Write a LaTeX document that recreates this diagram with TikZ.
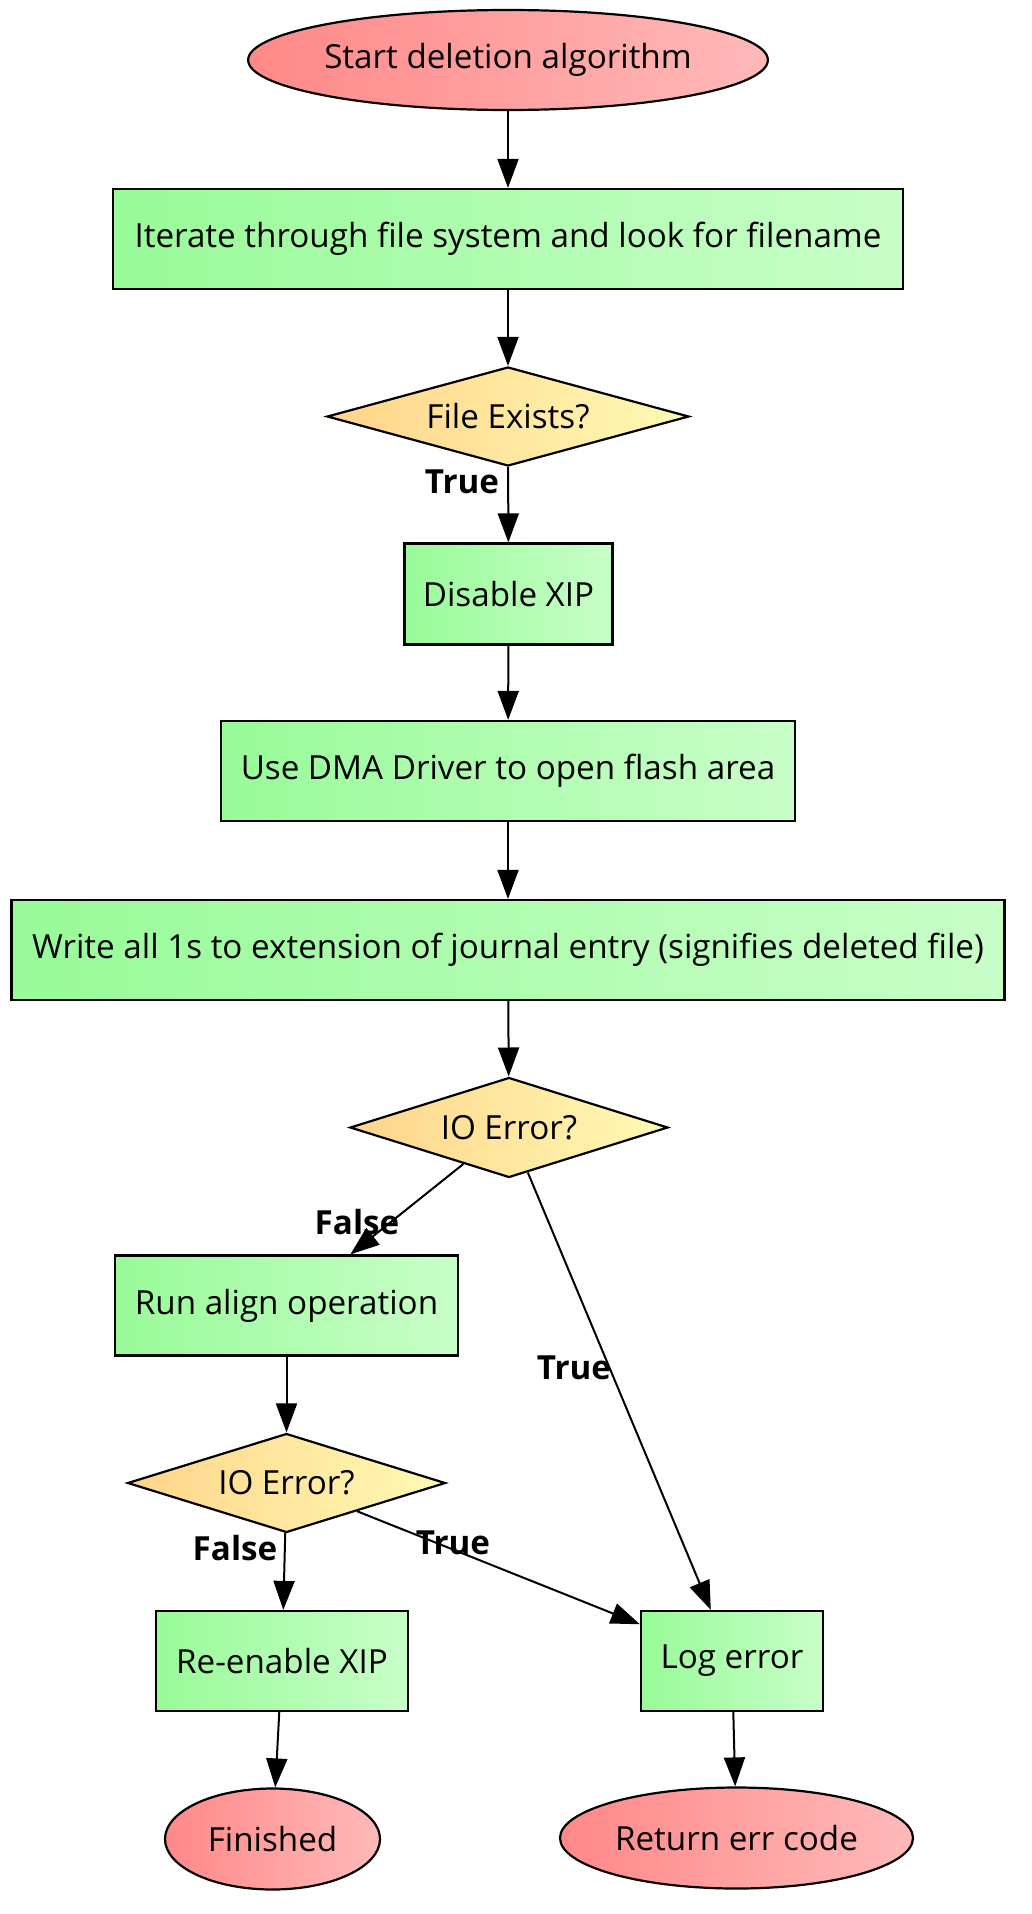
\documentclass[tikz,border=0pt]{standalone}
\usepackage{fontspec}
\setmainfont{Open Sans}
\usetikzlibrary{shapes.geometric,arrows.meta}
\definecolor{rectL}{HTML}{98FB98}
\definecolor{rectR}{HTML}{C8FEC8}
\definecolor{ellL}{HTML}{FF8888}
\definecolor{ellR}{HTML}{FFB9B9}
\definecolor{decL}{HTML}{FFD48A}
\definecolor{decR}{HTML}{FFFAB4}
\tikzset{
  txt/.style={font=\fontsize{33.2pt}{40pt}\selectfont},
  base/.style={draw=black, line width=2.2pt, inner sep=0pt, txt},
  box/.style={base, rectangle, left color=rectL, right color=rectR},
  term/.style={base, ellipse, left color=ellL, right color=ellR},
  dec/.style={base, diamond, left color=decL, right color=decR, label={[txt, inner sep=0pt]center:#1}},
  edge/.style={draw=black, line width=2pt, -{Triangle[length=29pt,width=21pt]}},
  lbl/.style={inner sep=0pt, font=\fontsize{33.2pt}{40pt}\selectfont\bfseries}
}
\begin{document}
\begin{tikzpicture}[x=1pt,y=-1pt]
\useasboundingbox (0,0) rectangle (1031,1914);
\node[term, minimum width=512pt, minimum height=100pt] (start) at (508,60) {Start deletion algorithm};
\node[box, minimum width=790pt, minimum height=100pt] (iter) at (508,239) {Iterate through file system and look for filename};
\node[dec={File Exists?}, minimum width=362pt, minimum height=99pt] (exists) at (508,416.5) {};
\node[box, minimum width=208pt, minimum height=101pt] (disable) at (508.5,594) {Disable XIP};
\node[box, minimum width=574pt, minimum height=100pt] (dma) at (508,771) {Use DMA Driver to open flash area};
\node[box, minimum width=993pt, minimum height=100pt] (write) at (508,950) {Write all 1s to extension of journal entry (signifies deleted file)};
\node[dec={IO Error?}, minimum width=318pt, minimum height=100pt] (io1) at (509,1127.5) {};
\node[box, minimum width=343pt, minimum height=100pt] (align) at (286.5,1305.5) {Run align operation};
\node[dec={IO Error?}, minimum width=318pt, minimum height=99pt] (io2) at (286.5,1483) {};
\node[box, minimum width=252pt, minimum height=100pt] (reenable) at (282,1661) {Re-enable XIP};
\node[box, minimum width=182pt, minimum height=100pt] (logerr) at (732,1661) {Log error};
\node[term, minimum width=215pt, minimum height=101pt] (finished) at (272.5,1839) {Finished};
\node[term, minimum width=353pt, minimum height=101pt] (return) at (736.5,1838) {Return err code};

\draw[edge] (start) -- (iter);
\draw[edge] (iter) -- (exists);
\draw[edge] (exists) -- (disable);
\draw[edge] (disable) -- (dma);
\draw[edge] (dma) -- (write);
\draw[edge] (write) -- (io1);
\draw[edge] (io1) -- (align);
\draw[edge] (io1) -- (logerr);
\draw[edge] (align) -- (io2);
\draw[edge] (io2) -- (reenable);
\draw[edge] (io2) -- (logerr);
\draw[edge] (reenable) -- (finished);
\draw[edge] (logerr) -- (return);

\node[lbl] (l1) at (462,482) {True};
\node[lbl] (l2) at (357,1222) {False};
\node[lbl] (l3) at (574,1368) {True};
\node[lbl] (l4) at (235,1548) {False};
\node[lbl] (l5) at (453,1543) {True};
\end{tikzpicture}
\end{document}
